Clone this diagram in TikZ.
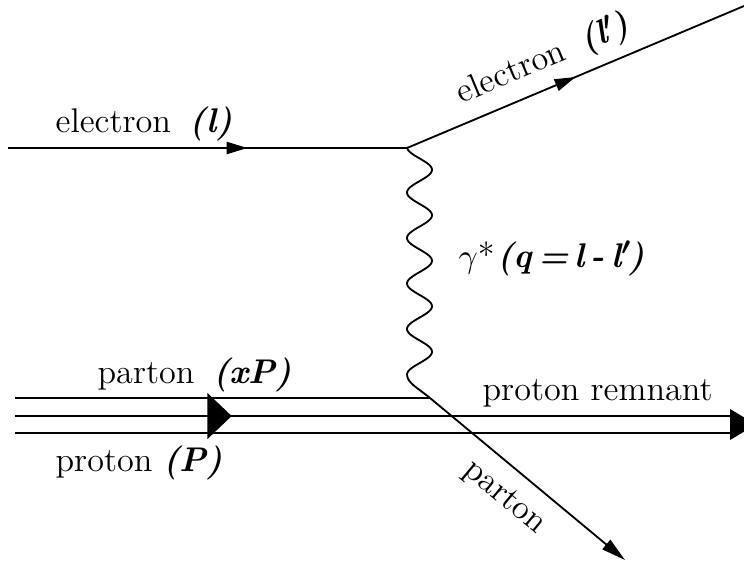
\documentclass[tikz,border=0pt]{standalone}
\usepackage{tikz}
\usetikzlibrary{arrows.meta,decorations.markings}

\newcommand{\momlabel}[1]{{\bfseries\itshape\boldmath #1}}

\begin{document}
\begin{tikzpicture}[
  x=0.115mm, y=-0.115mm,
  line/.style={line width=0.6pt},
  midarrow/.style={postaction={decorate, decoration={markings,
      mark=at position #1 with {\arrow{Triangle[length=2.4mm,width=1.4mm]}}}}},
  bigarrow/.style={postaction={decorate, decoration={markings,
      mark=at position #1 with {\arrow{Triangle[length=2.8mm,width=5.3mm]}}}}},
  lbl/.style={inner sep=0pt, font=\fontsize{11.2}{13.5}\selectfont}
]
\useasboundingbox (0,0) rectangle (744,566);

% vertices and free ends
\coordinate (ein)  at (8,148);
\coordinate (ev)   at (407,148);
\coordinate (eout) at (744,6);
\coordinate (pv)   at (430,398);
\coordinate (pout) at (625,560);
\coordinate (pin1) at (15,398);
\coordinate (pin2) at (15,416);
\coordinate (pin3) at (15,433);
\coordinate (rem2) at (730,416);
\coordinate (rem3) at (730,433);

% electrons
\draw[line, midarrow=0.60] (ein) -- (ev);
\draw[line, midarrow=0.50] (ev) -- (eout);

% virtual photon
\draw[line] plot[domain=0:5, samples=160, smooth]
  ({419.5-12.5*cos(360*\x)}, {147+45.5*\x})
  .. controls (407,383) and (418,388) .. (pv);

% proton and partons
\draw[line] (pin1) -- (pv);
\draw[line, bigarrow=0.303] (pin2) -- (rem2);
\draw[line] (pin3) -- (rem3);
\fill (730,409) -- (756,424.5) -- (730,440) -- cycle;
\draw[line, -{Triangle[length=2.8mm,width=1.4mm]}] (pv) -- (pout);

% labels
\node[lbl, anchor=base west] (lin) at (55,132) {electron\hspace{0.55em}\momlabel{(l)}};
\node[lbl, anchor=base west, rotate=22.7] (lout) at (461,104) {electron\hspace{0.55em}\momlabel{(l$'$\kern-1pt)}};
\node[lbl, anchor=base west] (lgam) at (458,267) {$\gamma$*\kern1pt\momlabel{(q\kern2pt=\kern2pt l\kern2pt-\kern2pt l$'$\kern-1pt)}};
\node[lbl, anchor=base west] (lxp) at (97,383) {parton\hspace{0.55em}\momlabel{(xP)}};
\node[lbl, anchor=base west] (lp) at (55,471) {proton \momlabel{(P)}};
\node[lbl, anchor=base west] (lrem) at (482,400) {proton remnant};
\node[lbl, rotate=-39.7] (lpart) at (504,498) {parton};
\end{tikzpicture}
\end{document}
